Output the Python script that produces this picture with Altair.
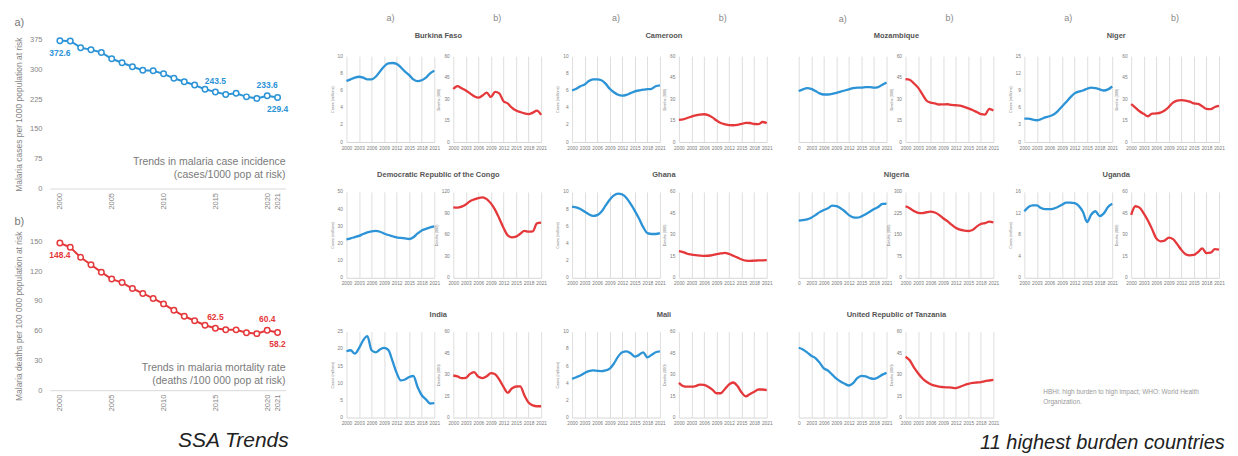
import altair as alt
import pandas as pd

YEARS = list(range(2000, 2022))

# ---------------- SSA trends ----------------
ssa_cases = [372.6, 372.0, 355.0, 350.0, 343.0, 327.0, 317.0, 307.0, 298.0, 297.0, 289.0,
             278.0, 269.0, 261.0, 250.0, 243.5, 237.0, 240.0, 231.0, 227.0, 233.6, 229.4]
ssa_deaths = [148.4, 144.0, 134.0, 126.5, 119.0, 112.0, 108.5, 102.5, 97.5, 92.5, 87.0,
              80.5, 74.5, 70.0, 65.5, 62.5, 61.0, 60.8, 58.0, 57.0, 60.4, 58.2]
label_years_above = [2015, 2020]
label_years_below = [2000, 2021]
SSA_X_TICKS = [2000, 2005, 2010, 2015, 2020, 2021]
PANEL_X_TICKS = [2000, 2003, 2006, 2009, 2012, 2015, 2018, 2021]

# ---------------- 11 highest burden countries ----------------
countries = ["Burkina Faso", "Cameroon", "Mozambique", "Niger",
             "Democratic Republic of the Congo", "Ghana", "Nigeria", "Uganda",
             "India", "Mali", "United Republic of Tanzania"]
cases = {
    "Burkina Faso": [7.1, 7.3, 7.5, 7.6, 7.5, 7.3, 7.3, 7.6, 8.2, 8.8, 9.15, 9.2, 9.1, 8.7, 8.2, 7.8, 7.3, 7.1, 7.2, 7.5, 8.0, 8.3],
    "Cameroon": [6.0, 6.2, 6.5, 6.7, 7.1, 7.3, 7.3, 7.2, 6.8, 6.2, 5.8, 5.5, 5.4, 5.5, 5.7, 5.9, 6.0, 6.1, 6.15, 6.2, 6.5, 6.6],
    "Mozambique": [8.9, 9.2, 9.4, 9.3, 8.9, 8.5, 8.3, 8.3, 8.4, 8.6, 8.8, 9.0, 9.2, 9.4, 9.5, 9.5, 9.6, 9.6, 9.5, 9.6, 10.0, 10.4],
    "Niger": [4.1, 4.1, 3.9, 3.8, 4.0, 4.3, 4.5, 4.8, 5.4, 6.2, 7.0, 7.8, 8.5, 8.8, 9.0, 9.3, 9.5, 9.4, 9.2, 9.0, 9.2, 9.7],
    "Democratic Republic of the Congo": [22.4, 23.0, 23.7, 24.4, 25.5, 26.4, 27.0, 27.3, 26.8, 25.8, 24.9, 24.2, 23.5, 23.2, 22.9, 22.6, 23.6, 25.8, 27.6, 28.5, 29.4, 30.0],
    "Ghana": [8.3, 8.2, 8.0, 7.7, 7.4, 7.2, 7.3, 7.7, 8.4, 9.1, 9.6, 9.8, 9.7, 9.3, 8.6, 7.8, 6.9, 5.9, 5.2, 5.1, 5.1, 5.2],
    "Nigeria": [53.2, 53.8, 54.4, 56.0, 58.4, 61.2, 63.2, 64.8, 67.2, 66.8, 64.8, 62.0, 58.4, 56.4, 56.0, 57.2, 59.2, 61.6, 64.0, 66.0, 68.8, 69.2],
    "Uganda": [12.4, 13.2, 13.5, 13.5, 13.0, 12.8, 12.8, 12.9, 13.2, 13.6, 14.0, 14.0, 13.9, 13.4, 12.3, 10.4, 11.8, 12.4, 11.5, 12.0, 13.2, 13.8],
    "India": [19.3, 19.6, 18.6, 20.2, 22.5, 23.7, 19.6, 19.0, 19.8, 20.3, 19.7, 16.5, 13.0, 10.8, 11.1, 11.8, 12.1, 8.9, 6.5, 5.3, 4.1, 4.2],
    "Mali": [4.5, 4.7, 4.9, 5.2, 5.4, 5.5, 5.45, 5.4, 5.5, 5.7, 6.3, 7.1, 7.6, 7.7, 7.5, 7.1, 7.3, 7.6, 7.0, 7.3, 7.6, 7.7],
    "United Republic of Tanzania": [12.2, 11.9, 11.4, 10.8, 10.4, 9.6, 8.6, 8.2, 7.5, 6.8, 6.3, 5.9, 5.6, 6.0, 6.9, 7.3, 7.2, 6.9, 6.75, 7.05, 7.5, 7.8],
}
deaths = {
    "Burkina Faso": [37.0, 39.0, 37.5, 36.0, 34.0, 32.0, 31.0, 32.5, 34.5, 31.5, 35.0, 34.0, 28.5, 27.0, 24.0, 22.0, 21.0, 20.0, 19.5, 20.5, 22.0, 19.0],
    "Cameroon": [15.5, 15.8, 16.8, 17.8, 18.6, 19.2, 19.4, 18.8, 17.2, 15.0, 13.3, 12.4, 11.8, 11.7, 12.0, 12.6, 13.4, 13.3, 12.6, 12.5, 14.0, 13.2],
    "Mozambique": [44.0, 43.5, 41.0, 38.0, 33.5, 29.0, 27.5, 27.0, 26.2, 26.3, 26.4, 26.0, 25.7, 25.5, 24.5, 23.5, 22.4, 21.0, 19.5, 19.2, 23.2, 22.0],
    "Niger": [26.5, 24.0, 21.5, 19.7, 18.0, 19.8, 20.0, 20.5, 22.0, 24.5, 27.5, 29.0, 29.3, 29.0, 28.2, 27.0, 26.6, 25.0, 23.2, 23.0, 24.5, 25.3],
    "Democratic Republic of the Congo": [98.5, 98.0, 99.5, 102.5, 107.0, 109.5, 111.5, 112.5, 110.0, 104.0, 95.0, 83.0, 70.0, 59.5, 56.5, 57.5, 61.5, 65.5, 64.5, 65.0, 76.0, 77.0],
    "Ghana": [18.6, 18.0, 16.8, 16.2, 15.8, 15.5, 15.3, 15.4, 15.8, 16.5, 17.0, 17.4, 16.6, 15.4, 14.1, 12.8, 12.0, 11.8, 12.0, 12.1, 12.2, 12.3],
    "Nigeria": [250, 243, 233, 227, 226, 229, 231, 228, 220, 208, 198, 186, 175, 168, 165, 163.5, 167, 179, 188, 191, 196, 194],
    "Uganda": [44.0, 50.0, 49.0, 45.0, 40.0, 34.0, 27.5, 25.5, 26.0, 28.0, 27.0, 23.5, 19.5, 16.5, 15.7, 16.0, 18.0, 20.5, 17.2, 17.5, 20.0, 19.7],
    "India": [29.4, 28.8, 27.5, 27.8, 30.5, 31.7, 28.5, 27.6, 28.8, 31.0, 30.2, 26.5, 21.5, 17.3, 20.3, 21.7, 21.8, 15.5, 10.5, 8.5, 7.9, 7.9],
    "Mali": [24.2, 22.0, 21.6, 21.6, 22.0, 23.0, 22.8, 21.5, 19.5, 17.0, 17.0, 20.0, 23.2, 24.5, 22.0, 17.5, 14.8, 16.5, 18.0, 19.6, 19.6, 19.2],
    "United Republic of Tanzania": [42.5, 40.0, 35.0, 31.0, 27.5, 25.0, 23.3, 22.3, 21.6, 21.3, 21.1, 20.9, 20.6, 21.5, 22.6, 23.5, 24.2, 24.5, 24.8, 25.4, 25.9, 26.4],
}
# axis settings: (cases max, cases step, deaths max, deaths step, cases axis shown)
axis_cfg = {
    "Burkina Faso": (10, 2, 60, 15, True),
    "Cameroon": (10, 2, 60, 15, True),
    "Mozambique": (15, 3, 60, 15, False),
    "Niger": (15, 3, 60, 15, True),
    "Democratic Republic of the Congo": (50, 10, 120, 30, True),
    "Ghana": (10, 2, 60, 15, True),
    "Nigeria": (80, 20, 300, 75, False),
    "Uganda": (16, 4, 60, 15, True),
    "India": (25, 5, 60, 15, True),
    "Mali": (10, 2, 60, 15, True),
    "United Republic of Tanzania": (15, 3, 60, 15, False),
}
NOTE = "HBHI: high burden to high impact; WHO: World Health\nOrganization."

BLUE = "#2b93d6"
RED = "#e5383b"
GREY = "#858585"
W, H = 88, 86


def ssa_chart(values, color, ymax, ystep, ytitle, tag, note, title_offset, note_y):
    df = pd.DataFrame({"year": YEARS, "value": values})
    x = alt.X("year:Q", title=None,
              scale=alt.Scale(domain=[1999.04, 2021.77], nice=False, zero=False),
              axis=alt.Axis(values=SSA_X_TICKS, format="d", labelAngle=270, grid=False, ticks=False,
                            domainColor="#d9d9d9", labelColor=GREY, labelFontSize=7.5,
                            labelPadding=4, labelOverlap=False, labelFlush=False))
    y = alt.Y("value:Q", title=ytitle,
              scale=alt.Scale(domain=[0, ymax], nice=False),
              axis=alt.Axis(values=list(range(0, ymax + 1, ystep)), grid=False, domain=False, ticks=False,
                            labelColor=GREY, labelFontSize=7.5, labelPadding=8,
                            titleColor=GREY, titleFontSize=8.5, titleFontWeight="normal", titlePadding=6))
    base = alt.Chart(df).encode(x=x, y=y)
    line = base.mark_line(color=color, strokeWidth=2)
    pts = base.mark_point(shape="circle", filled=False, fill="white", fillOpacity=1, stroke=color,
                          strokeWidth=1.5, size=30, opacity=1)
    above = base.transform_filter(
        alt.FieldOneOfPredicate(field="year", oneOf=label_years_above)
    ).mark_text(color=color, fontSize=8.5, fontWeight="bold", dy=-11).encode(
        text=alt.Text("value:Q", format=".1f"))
    below = base.transform_filter(
        alt.FieldOneOfPredicate(field="year", oneOf=label_years_below)
    ).mark_text(color=color, fontSize=8.5, fontWeight="bold", dy=12).encode(
        text=alt.Text("value:Q", format=".1f"))
    note_mark = alt.Chart(pd.DataFrame({"t": [note]})).mark_text(
        align="right", baseline="middle", fontSize=10.5, color="#7a7a7a", lineBreak="\n", lineHeight=13
    ).encode(x=alt.value(236), y=alt.value(note_y), text="t:N")
    return alt.layer(line, pts, above, below, note_mark).properties(
        width=236, height=149,
        title=alt.TitleParams(tag, anchor="start", fontSize=11, color="#777", fontWeight="normal",
                              offset=title_offset))


def panel(values, color, ymax, ystep, ytitle, tag, show_y, crop_first):
    df = pd.DataFrame({"year": YEARS, "value": values})
    xa = dict(values=PANEL_X_TICKS, format="d", grid=True, gridColor="#dedede", ticks=False,
              domainColor="#d6d6d6", labelColor="#7a7a7a", labelFontSize=4.8, labelPadding=3,
              labelOverlap=False, labelFlush=False, labelAngle=0)
    if crop_first:
        xa["labelExpr"] = "datum.value == 2000 ? '0' : datum.label"
    x = alt.X("year:Q", title=None, scale=alt.Scale(domain=[2000, 2021], nice=False, zero=False),
              axis=alt.Axis(**xa))
    yscale = alt.Scale(domain=[0, ymax], nice=False)
    if show_y:
        y = alt.Y("value:Q", title=ytitle, scale=yscale,
                  axis=alt.Axis(values=list(range(0, ymax + 1, ystep)), grid=False, domain=False,
                                ticks=False, labelColor="#7a7a7a", labelFontSize=4.8, labelPadding=4,
                                titleFontSize=3.8, titleColor="#7a7a7a", titleFontWeight="normal",
                                titlePadding=3))
    else:
        y = alt.Y("value:Q", title=None, scale=yscale, axis=None)
    ch = alt.Chart(df).mark_line(color=color, strokeWidth=2.3, interpolate="monotone").encode(
        x=x, y=y).properties(width=W, height=H)
    if tag:
        ch = ch.properties(title=alt.TitleParams(tag, fontSize=9, color="#888", fontWeight="normal",
                                                 anchor="middle", offset=30 if show_y else 32.5))
    return ch


def pair(name, top_row):
    cmax, cstep, dmax, dstep, show = axis_cfg[name]
    a = panel(cases[name], BLUE, cmax, cstep, "Cases (millions)", "a)" if top_row else None,
              show, not show)
    b = panel(deaths[name], RED, dmax, dstep, "Deaths (000)", "b)" if top_row else None,
              True, False)
    t = alt.TitleParams(name, fontSize=7.5, fontWeight="bold", color="#555", anchor="middle",
                        offset=-26 if top_row else 10)
    return alt.hconcat(a, b, spacing=19, bounds="flush", title=t)


note_chart = alt.Chart(pd.DataFrame({"t": [NOTE]})).mark_text(
    align="left", baseline="middle", fontSize=6.5, color="#999", lineBreak="\n", lineHeight=10
).encode(x=alt.value(35), y=alt.value(60), text="t:N").properties(width=2 * W + 19, height=H)

p = {c: pair(c, i < 4) for i, c in enumerate(countries)}
row1 = alt.hconcat(alt.hconcat(p["Burkina Faso"], p["Cameroon"], spacing=8),
                   alt.hconcat(p["Mozambique"], p["Niger"], spacing=8), spacing=20)
row2 = alt.hconcat(alt.hconcat(p["Democratic Republic of the Congo"], p["Ghana"], spacing=8),
                   alt.hconcat(p["Nigeria"], p["Uganda"], spacing=8), spacing=20)
row3 = alt.hconcat(alt.hconcat(p["India"], p["Mali"], spacing=8),
                   alt.hconcat(p["United Republic of Tanzania"], note_chart, spacing=8), spacing=20)

right = alt.vconcat(alt.vconcat(row1, row2, spacing=20), row3, spacing=24,
                    title=alt.TitleParams("11 highest burden countries", orient="bottom", anchor="end",
                                          fontSize=20, fontStyle="italic", fontWeight="normal",
                                          color="#222", font="Liberation Sans", offset=7))

chart_a = ssa_chart(ssa_cases, BLUE, 375, 75, "Malaria cases per 1000 population at risk", "a)",
                    "Trends in malaria case incidence\n(cases/1000 pop at risk)", 7, 122)
chart_b = ssa_chart(ssa_deaths, RED, 150, 30, "Malaria deaths per 100 000 population at risk", "b)",
                    "Trends in malaria mortality rate\n(deaths /100 000 pop at risk)", 4, 127)
left = alt.vconcat(chart_a, chart_b, spacing=4,
                   title=alt.TitleParams("SSA Trends", orient="bottom", anchor="end", fontSize=21,
                                         fontStyle="italic", fontWeight="normal", color="#222",
                                         font="Liberation Sans", offset=19,
                                         subtitle=" ", subtitleFontSize=17, subtitlePadding=2))

chart = alt.hconcat(left, right, spacing=40, center=True).configure(
    font="Liberation Sans", view=alt.ViewConfig(stroke="transparent"))

chart.save("out.html", embed_options={"renderer": "svg", "actions": False})
